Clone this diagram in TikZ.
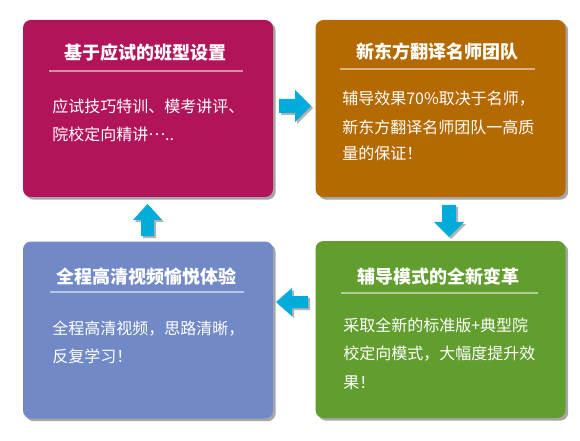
\documentclass[tikz,border=0pt]{standalone}
\usepackage{fontspec}
\setmainfont{Noto Sans CJK SC}
\usetikzlibrary{shadows}
\definecolor{cA}{HTML}{B2145A}
\definecolor{cB}{HTML}{B46A00}
\definecolor{cC}{HTML}{7189C6}
\definecolor{cD}{HTML}{629E2E}
\definecolor{arr}{HTML}{00ADDA}
\tikzset{
  box/.style={rounded corners=6pt, minimum width=187.5pt, minimum height=132.75pt, inner sep=0pt,
    drop shadow={shadow xshift=2pt, shadow yshift=-2pt, opacity=.35, fill=black}},
  sep/.style={draw=white, draw opacity=.5, line width=0.8pt},
  ttl/.style={anchor=base, text=white, font=\fontsize{13.5pt}{16pt}\selectfont\bfseries, inner sep=0pt},
  bodytxt/.style={anchor=base west, text=white, font=\fontsize{12pt}{14pt}\selectfont, inner sep=0pt},
  blockarrow/.style={fill=arr, drop shadow={shadow xshift=1.5pt, shadow yshift=-1.5pt, opacity=.3, fill=black}}
}
\begin{document}
\begin{tikzpicture}[x=0.75pt,y=-0.75pt]
\useasboundingbox (0,0) rectangle (580,441);
% boxes
\node[box, fill=cA] (b1) at (148,108.5) {};
\node[box, fill=cB] (b2) at (440.5,108.5) {};
\node[box, fill=cC] (b3) at (148,330) {};
\node[box, fill=cD] (b4) at (440.5,329.5) {};
% titles
\node[ttl] (t1) at (145,60) {基于应试的班型设置};
\node[ttl] (t2) at (437,59) {新东方翻译名师团队};
\node[ttl] (t3) at (146,283) {全程高清视频愉悦体验};
\node[ttl] (t4) at (438,283) {辅导模式的全新变革};
% separators
\draw[sep] (49,71) -- (243,71);
\draw[sep] (340,69) -- (535,69);
\draw[sep] (50,292) -- (244,292);
\draw[sep] (341,293) -- (538,293);
% body text
\node[bodytxt] (p1a) at (52,113) {应试技巧特训、模考讲评、};
\node[bodytxt] (p1b) at (52,141) {院校定向精讲\raisebox{0.32em}{…}..};
\node[bodytxt] (p2a) at (342,105) {辅导效果70\%取决于名师，};
\node[bodytxt] (p2b) at (342,134) {新东方翻译名师团队一高质};
\node[bodytxt] (p2c) at (342,160) {量的保证！};
\node[bodytxt] (p3a) at (52,334) {全程高清视频，思路清晰，};
\node[bodytxt] (p3b) at (52,362) {反复学习！};
\node[bodytxt] (p4a) at (343,331) {采取全新的标准版+典型院};
\node[bodytxt] (p4b) at (343,359) {校定向模式，大幅度提升效};
\node[bodytxt] (p4c) at (343,388) {果！};
% arrows
\path[blockarrow] (279,99) -- (295,99) -- (295,90) -- (311,106) -- (295,122) -- (295,113) -- (279,113) -- cycle;
\path[blockarrow] (442,205) -- (456,205) -- (456,222) -- (464,222) -- (449,237) -- (434,222) -- (442,222) -- cycle;
\path[blockarrow] (308,296) -- (292,296) -- (292,288) -- (276,302) -- (292,316) -- (292,308) -- (308,308) -- cycle;
\path[blockarrow] (141,236) -- (141,220) -- (133,220) -- (147.5,204) -- (162,220) -- (154,220) -- (154,236) -- cycle;
\end{tikzpicture}
\end{document}
